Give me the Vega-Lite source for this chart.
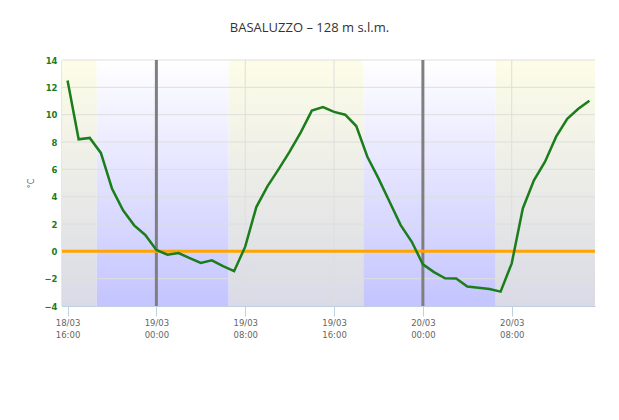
{
  "$schema": "https://vega.github.io/schema/vega-lite/v6.json",
  "width": 533,
  "height": 246,
  "autosize": {"type": "none"},
  "padding": {"left": 62, "top": 60, "right": 24, "bottom": 114},
  "background": "white",
  "title": {
    "text": "BASALUZZO – 128 m s.l.m.",
    "font": "Open Sans",
    "fontSize": 13,
    "fontWeight": "normal",
    "color": "#333333",
    "anchor": "middle",
    "frame": "group",
    "dx": -19,
    "offset": 21
  },
  "config": {
    "view": {"stroke": null},
    "axis": {"grid": false, "labelOverlap": false}
  },
  "layer": [
    {
      "data": {
        "values": [
          {"start": "2021-03-18T15:30:00", "end": "2021-03-18T18:38:00", "kind": "day"},
          {"start": "2021-03-19T06:30:00", "end": "2021-03-19T18:38:00", "kind": "day"},
          {"start": "2021-03-20T06:33:00", "end": "2021-03-20T15:30:00", "kind": "day"}
        ],
        "format": {"parse": {"start": "date", "end": "date"}}
      },
      "mark": {
        "type": "rect",
        "fill": {
          "gradient": "linear",
          "x1": 0, "y1": 0, "x2": 0, "y2": 1,
          "stops": [
            {"offset": 0, "color": "#fdfde8"},
            {"offset": 1, "color": "#d9dae6"}
          ]
        }
      },
      "encoding": {
        "x": {
          "field": "start",
          "type": "temporal",
          "scale": {
            "domain": [
              {"year": 2021, "month": 3, "date": 18, "hours": 15, "minutes": 30},
              {"year": 2021, "month": 3, "date": 20, "hours": 15, "minutes": 30}
            ]
          },
          "axis": {
            "title": null,
            "values": [
              {"year": 2021, "month": 3, "date": 18, "hours": 16},
              {"year": 2021, "month": 3, "date": 19, "hours": 0},
              {"year": 2021, "month": 3, "date": 19, "hours": 8},
              {"year": 2021, "month": 3, "date": 19, "hours": 16},
              {"year": 2021, "month": 3, "date": 20, "hours": 0},
              {"year": 2021, "month": 3, "date": 20, "hours": 8}
            ],
            "labelExpr": "[timeFormat(datum.value, '%d/%m'), timeFormat(datum.value, '%H:%M')]",
            "labelFont": "DejaVu Sans",
            "labelFontSize": 8.5,
            "labelColor": "#666666",
            "labelLineHeight": 12.5,
            "labelBaseline": "top",
            "labelPadding": 2,
            "tickSize": 10,
            "tickColor": "#c0d0e0",
            "domainColor": "#c0d0e0",
            "labelFlush": false,
            "labelOverlap": false
          }
        },
        "x2": {"field": "end"}
      }
    },
    {
      "data": {
        "values": [
          {"start": "2021-03-18T18:38:00", "end": "2021-03-19T06:30:00", "kind": "night"},
          {"start": "2021-03-19T18:38:00", "end": "2021-03-20T06:33:00", "kind": "night"}
        ],
        "format": {"parse": {"start": "date", "end": "date"}}
      },
      "mark": {
        "type": "rect",
        "fill": {
          "gradient": "linear",
          "x1": 0, "y1": 0, "x2": 0, "y2": 1,
          "stops": [
            {"offset": 0, "color": "#ffffff"},
            {"offset": 1, "color": "#c4c4ff"}
          ]
        }
      },
      "encoding": {
        "x": {"field": "start", "type": "temporal"},
        "x2": {"field": "end"}
      }
    },
    {
      "data": {"values": [{"v": -2}, {"v": 0}, {"v": 2}, {"v": 4}, {"v": 6}, {"v": 8}, {"v": 10}, {"v": 12}, {"v": 14}]},
      "mark": {"type": "rule", "color": "#dedede", "strokeWidth": 1},
      "encoding": {
        "y": {
          "field": "v",
          "type": "quantitative",
          "scale": {"domain": [-4, 14], "nice": false, "zero": false},
          "axis": {
            "title": "°C",
            "titleFont": "DejaVu Sans",
            "titleFontSize": 8,
            "titleFontWeight": "normal",
            "titleColor": "#666666",
            "titlePadding": 8,
            "tickCount": 9,
            "tickMinStep": 2,
            "labelFont": "DejaVu Sans",
            "labelFontSize": 8.5,
            "labelFontWeight": "bold",
            "labelColor": "#1f7a1f",
            "labelPadding": 5,
            "labelOverlap": false,
            "labelSeparation": 0,
            "ticks": false,
            "domainColor": "#c0d0e0",
            "domainWidth": 2
          }
        }
      }
    },
    {
      "data": {
        "values": [
          {"t": "2021-03-19T08:00:00"},
          {"t": "2021-03-19T16:00:00"},
          {"t": "2021-03-20T08:00:00"}
        ],
        "format": {"parse": {"t": "date"}}
      },
      "mark": {"type": "rule", "color": "#dedede", "strokeWidth": 1},
      "encoding": {"x": {"field": "t", "type": "temporal"}}
    },
    {
      "data": {
        "values": [
          {"t": "2021-03-19T00:00:00"},
          {"t": "2021-03-20T00:00:00"}
        ],
        "format": {"parse": {"t": "date"}}
      },
      "mark": {"type": "rule", "color": "#7f7f7f", "strokeWidth": 3},
      "encoding": {"x": {"field": "t", "type": "temporal"}}
    },
    {
      "data": {"values": [{"v": 0}]},
      "mark": {"type": "rule", "color": "#ffa500", "strokeWidth": 3},
      "encoding": {"y": {"field": "v", "type": "quantitative"}}
    },
    {
      "data": {
        "values": [
          {"time": "2021-03-18T16:00:00", "temp": 12.5},
          {"time": "2021-03-18T17:00:00", "temp": 8.2},
          {"time": "2021-03-18T18:00:00", "temp": 8.3},
          {"time": "2021-03-18T19:00:00", "temp": 7.2},
          {"time": "2021-03-18T20:00:00", "temp": 4.6},
          {"time": "2021-03-18T21:00:00", "temp": 3.0},
          {"time": "2021-03-18T22:00:00", "temp": 1.9},
          {"time": "2021-03-18T23:00:00", "temp": 1.2},
          {"time": "2021-03-19T00:00:00", "temp": 0.1},
          {"time": "2021-03-19T01:00:00", "temp": -0.25},
          {"time": "2021-03-19T02:00:00", "temp": -0.13},
          {"time": "2021-03-19T03:00:00", "temp": -0.5},
          {"time": "2021-03-19T04:00:00", "temp": -0.85},
          {"time": "2021-03-19T05:00:00", "temp": -0.66},
          {"time": "2021-03-19T06:00:00", "temp": -1.08},
          {"time": "2021-03-19T07:00:00", "temp": -1.45},
          {"time": "2021-03-19T08:00:00", "temp": 0.34},
          {"time": "2021-03-19T09:00:00", "temp": 3.24},
          {"time": "2021-03-19T10:00:00", "temp": 4.75},
          {"time": "2021-03-19T11:00:00", "temp": 6.0},
          {"time": "2021-03-19T12:00:00", "temp": 7.3},
          {"time": "2021-03-19T13:00:00", "temp": 8.7},
          {"time": "2021-03-19T14:00:00", "temp": 10.3},
          {"time": "2021-03-19T15:00:00", "temp": 10.55},
          {"time": "2021-03-19T16:00:00", "temp": 10.2},
          {"time": "2021-03-19T17:00:00", "temp": 10.0},
          {"time": "2021-03-19T18:00:00", "temp": 9.17},
          {"time": "2021-03-19T19:00:00", "temp": 6.92},
          {"time": "2021-03-19T20:00:00", "temp": 5.34},
          {"time": "2021-03-19T21:00:00", "temp": 3.63},
          {"time": "2021-03-19T22:00:00", "temp": 1.92},
          {"time": "2021-03-19T23:00:00", "temp": 0.7},
          {"time": "2021-03-20T00:00:00", "temp": -0.95},
          {"time": "2021-03-20T01:00:00", "temp": -1.52},
          {"time": "2021-03-20T02:00:00", "temp": -1.97},
          {"time": "2021-03-20T03:00:00", "temp": -1.98},
          {"time": "2021-03-20T04:00:00", "temp": -2.57},
          {"time": "2021-03-20T05:00:00", "temp": -2.67},
          {"time": "2021-03-20T06:00:00", "temp": -2.76},
          {"time": "2021-03-20T07:00:00", "temp": -2.95},
          {"time": "2021-03-20T08:00:00", "temp": -0.88},
          {"time": "2021-03-20T09:00:00", "temp": 3.14},
          {"time": "2021-03-20T10:00:00", "temp": 5.2},
          {"time": "2021-03-20T11:00:00", "temp": 6.56},
          {"time": "2021-03-20T12:00:00", "temp": 8.39},
          {"time": "2021-03-20T13:00:00", "temp": 9.7},
          {"time": "2021-03-20T14:00:00", "temp": 10.43},
          {"time": "2021-03-20T15:00:00", "temp": 11.02}
        ],
        "format": {"parse": {"time": "date"}}
      },
      "mark": {"type": "line", "color": "#1b7d1b", "strokeWidth": 2.5},
      "encoding": {
        "x": {"field": "time", "type": "temporal"},
        "y": {"field": "temp", "type": "quantitative"}
      }
    }
  ]
}
